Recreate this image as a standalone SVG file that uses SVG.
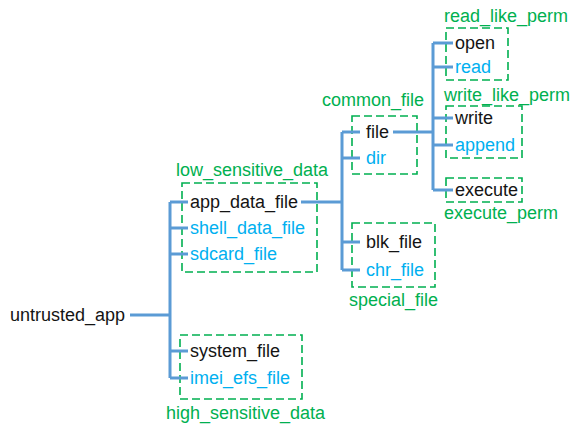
<svg xmlns="http://www.w3.org/2000/svg" width="576" height="425" viewBox="0 0 576 425">
<style>
text{font-family:"Liberation Sans",Arial,sans-serif;font-size:18px}
.k{fill:#141414}
.b{fill:#00B0F0}
.g{fill:#00B050}
.box{fill:none;stroke:#00B050;stroke-width:1.6;stroke-dasharray:8 4}
.c{fill:none;stroke:#5B9BD5;stroke-width:3}
</style>
<rect width="576" height="425" fill="#fff"/>
<g id="clusters">
<g id="low_sensitive_data"><rect class="box" x="182" y="183" width="135" height="89"/><text class="g" x="176" y="176">low_sensitive_data</text></g>
<g id="high_sensitive_data"><rect class="box" x="180" y="335" width="122" height="64"/><text class="g" x="166" y="419">high_sensitive_data</text></g>
<g id="common_file"><rect class="box" x="352" y="116" width="65" height="58"/><text class="g" x="322" y="106">common_file</text></g>
<g id="special_file"><rect class="box" x="352" y="223" width="83" height="64"/><text class="g" x="349" y="306">special_file</text></g>
<g id="read_like_perm"><rect class="box" x="446" y="28" width="62" height="52"/><text class="g" x="444" y="22">read_like_perm</text></g>
<g id="write_like_perm"><rect class="box" x="446" y="106" width="76" height="52"/><text class="g" x="444" y="101">write_like_perm</text></g>
<g id="execute_perm"><rect class="box" x="446" y="178" width="76" height="24"/><text class="g" x="444" y="219">execute_perm</text></g>
</g>
<g id="connectors">
<path class="c" d="M130,315H170M170,202V378M170,202H188M170,228H188M170,254H188M170,351H188M170,378H188"/>
<path class="c" d="M301,202H342M342,132V270M342,132H360M342,158H360M342,242H360M342,270H360"/>
<path class="c" d="M393,132H433M433,43V190M433,43H453M433,67H453M433,118H453M433,145H453M433,190H453"/>
</g>
<g id="untrusted_app"><text class="k" x="10" y="321">untrusted_app</text></g>
<g id="app_data_file"><text class="k" x="190" y="208">app_data_file</text></g>
<g id="shell_data_file"><text class="b" x="190" y="234">shell_data_file</text></g>
<g id="sdcard_file"><text class="b" x="190" y="260">sdcard_file</text></g>
<g id="system_file"><text class="k" x="190" y="357">system_file</text></g>
<g id="imei_efs_file"><text class="b" x="190" y="384">imei_efs_file</text></g>
<g id="file"><text class="k" x="366" y="138">file</text></g>
<g id="dir"><text class="b" x="366" y="164">dir</text></g>
<g id="blk_file"><text class="k" x="366" y="248">blk_file</text></g>
<g id="chr_file"><text class="b" x="366" y="276">chr_file</text></g>
<g id="open"><text class="k" x="455" y="49">open</text></g>
<g id="read"><text class="b" x="455" y="73">read</text></g>
<g id="write"><text class="k" x="455" y="124">write</text></g>
<g id="append"><text class="b" x="455" y="151">append</text></g>
<g id="execute"><text class="k" x="455" y="196">execute</text></g>
</svg>
